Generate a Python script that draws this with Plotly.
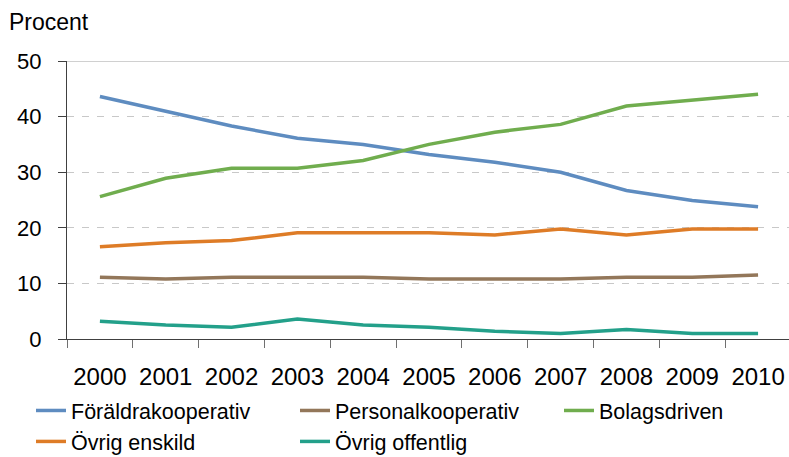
import plotly.graph_objects as go

years = ["2000", "2001", "2002", "2003", "2004", "2005", "2006", "2007", "2008", "2009", "2010"]

foraldrakooperativ = [43.6, 40.9, 38.3, 36.1, 35.0, 33.2, 31.8, 30.0, 26.7, 24.9, 23.8]
personalkooperativ = [11.1, 10.8, 11.1, 11.1, 11.1, 10.8, 10.8, 10.8, 11.1, 11.1, 11.5]
bolagsdriven = [25.6, 28.9, 30.7, 30.7, 32.1, 35.0, 37.2, 38.6, 41.9, 43.0, 44.0]
ovrig_enskild = [16.6, 17.3, 17.7, 19.1, 19.1, 19.1, 18.7, 19.8, 18.7, 19.8, 19.8]
ovrig_offentlig = [3.2, 2.5, 2.1, 3.6, 2.5, 2.1, 1.4, 1.0, 1.7, 1.0, 1.0]

y_ticks = [0, 10, 20, 30, 40, 50]

series = [
    ("Föräldrakooperativ", foraldrakooperativ, "#5E8CC0"),
    ("Personalkooperativ", personalkooperativ, "#93775A"),
    ("Bolagsdriven", bolagsdriven, "#70AD4E"),
    ("Övrig enskild", ovrig_enskild, "#DE7C27"),
    ("Övrig offentlig", ovrig_offentlig, "#23A08A"),
]

FONT = "Arial, Liberation Sans, sans-serif"

fig = go.Figure()
for name, vals, color in series:
    fig.add_trace(go.Scatter(
        x=years, y=vals, name=name, mode="lines",
        line=dict(color=color, width=3.5),
    ))

W, H = 789, 457
L, R, T, B = 67, 0, 61, 118
pw = W - L - R
ph = H - T - B

fig.update_layout(
    width=W, height=H,
    margin=dict(l=L, r=R, t=T, b=B, pad=0, autoexpand=False),
    paper_bgcolor="white", plot_bgcolor="white",
    font=dict(family=FONT, color="black"),
    showlegend=True,
    legend=dict(
        orientation="h",
        x=(31 - L) / pw, xanchor="left",
        y=-(390 - (T + ph)) / ph, yanchor="top",
        entrywidth=219,
        font=dict(size=21.5, family=FONT, color="black"),
        bgcolor="rgba(0,0,0,0)",
        traceorder="normal",
        itemwidth=30,
    ),
    xaxis=dict(
        type="category",
        range=[-0.5, 10.47],
        showgrid=False,
        showline=True, linecolor="#404040", linewidth=1,
        ticks="outside", tickson="boundaries", ticklen=8, tickcolor="#707070", tickwidth=1,
        tickfont=dict(size=24, family=FONT, color="black"),
        ticklabelstandoff=16,
        zeroline=False,
    ),
    yaxis=dict(
        range=[0, 50],
        tickvals=y_ticks,
        showgrid=True, gridcolor="#C8C8C8", gridwidth=1, griddash="7px,8px",
        showline=True, linecolor="#404040", linewidth=1,
        ticks="outside", ticklen=8, tickcolor="#404040", tickwidth=1,
        tickfont=dict(size=22, family=FONT, color="black"),
        ticklabelstandoff=12,
        zeroline=False,
    ),
    shapes=[dict(
        type="line", xref="paper", yref="y", x0=0, x1=1, y0=50, y1=50,
        line=dict(color="#C0C0C0", width=1.5), layer="below",
    )],
    annotations=[dict(
        text="Procent", xref="paper", yref="paper",
        x=(7 - L) / pw, xanchor="left",
        y=1 + (T - 22) / ph, yanchor="middle",
        showarrow=False, font=dict(size=23, family=FONT, color="black"),
    )],
)

fig.write_html(
    "out.html",
    config={"displayModeBar": False},
    post_script="document.body.style.margin='0';document.body.style.overflow='hidden';",
)
